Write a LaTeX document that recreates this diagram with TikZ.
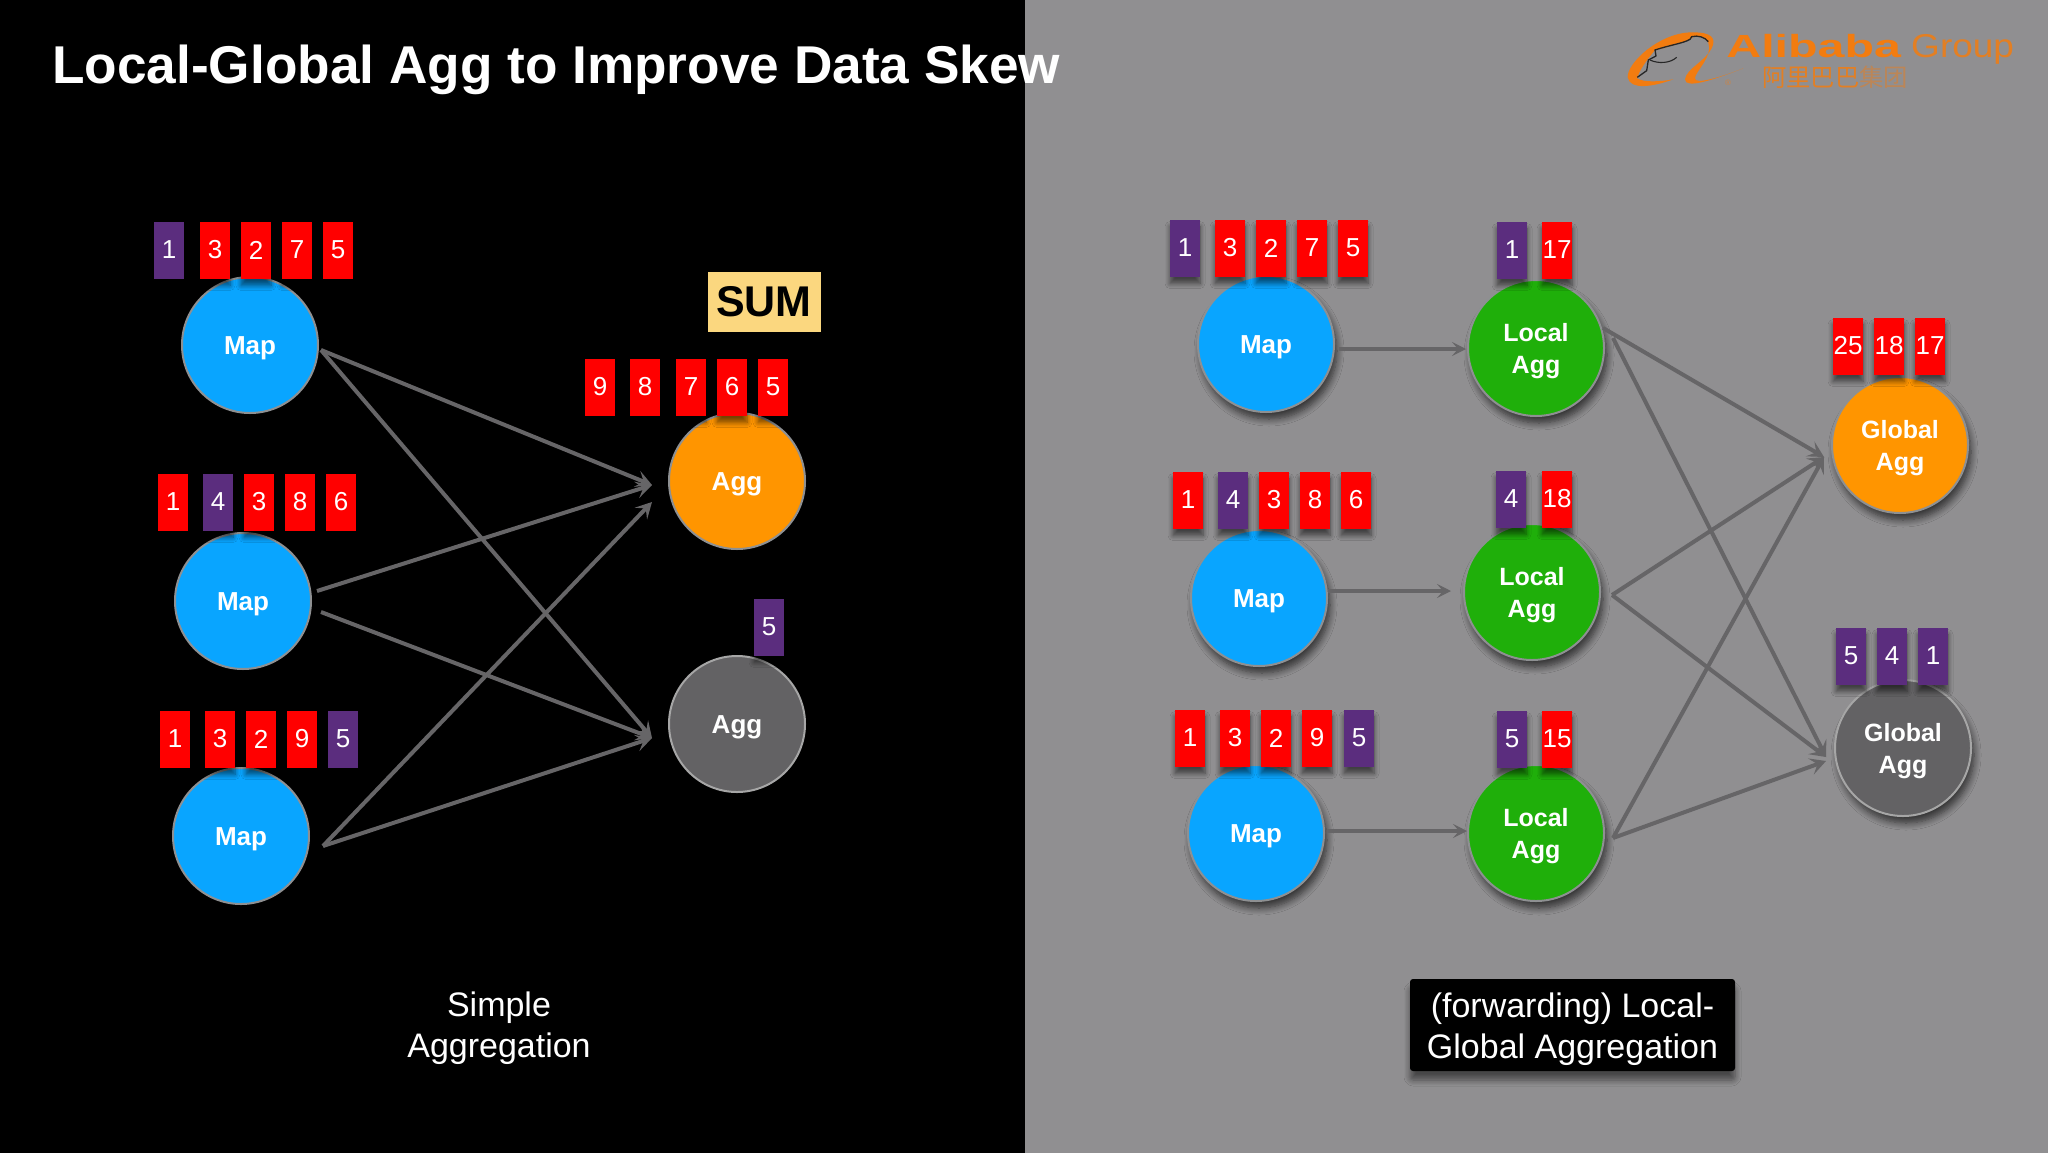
\documentclass[tikz,border=0pt]{standalone}
\usepackage{fontspec}
\setmainfont{Liberation Sans}
\newfontfamily\cjkfont{Noto Sans CJK SC}
\usetikzlibrary{arrows.meta,shadows.blur}
\definecolor{panelgray}{HTML}{908F91}
\definecolor{boxred}{HTML}{FF0000}
\definecolor{boxpurple}{HTML}{5B2D7E}
\definecolor{mapblue}{HTML}{09A5FF}
\definecolor{aggorange}{HTML}{FF9500}
\definecolor{agggray}{HTML}{636264}
\definecolor{localgreen}{HTML}{1FAF0A}
\definecolor{rimgray}{HTML}{8E9092}
\definecolor{wire}{HTML}{666567}
\definecolor{sumyellow}{HTML}{FBD77F}
\definecolor{logoorange}{HTML}{F27C10}
\newcommand\lowtext[2][3pt]{\raisebox{-#1}[\height][\depth]{#2}}
\tikzset{
  softbox/.style={blur shadow={shadow xshift=0pt,shadow yshift=-7pt,shadow blur steps=6,shadow blur radius=5pt,shadow opacity=55}},
  softdisc/.style={blur shadow={shadow xshift=3pt,shadow yshift=-7pt,shadow blur steps=8,shadow blur radius=7pt,shadow opacity=65}},
  val/.style={minimum width=30pt,minimum height=57pt,inner sep=0pt,text=white,font=\fontsize{26}{30}\selectfont,softbox},
  rb/.style={val,fill=boxred},
  pb/.style={val,fill=boxpurple},
  disc/.style={circle,minimum size=136pt,inner sep=0pt,draw=rimgray,line width=2pt,text=white,align=center,font=\fontsize{26}{32}\selectfont\bfseries},
  twoline/.style={font=\fontsize{25}{32}\selectfont\bfseries},
  mapdisc/.style={disc,fill=mapblue},
  orangedisc/.style={disc,fill=aggorange},
  graydisc/.style={disc,fill=agggray,draw=black!35},
  greendisc/.style={disc,fill=localgreen},
  conn/.style={draw=wire,line width=4pt,-{Stealth[length=16pt,width=17pt,inset=7pt]}},
  connb/.style={draw=wire,line width=3.4pt,-{Stealth[length=14pt,width=14pt,inset=6pt]}},
  caption/.style={text=white,align=center,inner sep=0pt,font=\fontsize{34}{41}\selectfont},
}
\begin{document}
\begin{tikzpicture}[x=1pt,y=-1pt]
\useasboundingbox (0,0) rectangle (2048,1152);
\fill[black] (-5,-5) rectangle (1025,1157);
\fill[panelgray] (1025,-5) rectangle (2053,1157);

% logo
\begin{scope}[shift={(1580,0)},x=0.3333pt,y=-0.3333pt]
\fill[logoorange] (280,238) .. controls (215,262) and (150,270) .. (143,232)
  .. controls (140,190) and (240,95) .. (340,97)
  .. controls (395,97) and (410,115) .. (395,145)
  .. controls (375,185) and (320,205) .. (315,238)
  .. controls (315,268) and (400,240) .. (490,205)
  .. controls (420,232) and (345,255) .. (345,235)
  .. controls (345,215) and (400,170) .. (385,128)
  .. controls (370,105) and (340,105) .. (330,118)
  .. controls (290,135) and (230,150) .. (225,150)
  .. controls (200,180) and (175,215) .. (172,235)
  .. controls (190,248) and (240,245) .. (280,238) -- cycle;
\draw[black!85,line width=1.3pt] (172,232) -- (200,212) -- (205,180) -- (228,168) -- (225,150) .. controls (270,135) and (310,130) .. (330,118) -- (335,110) .. controls (355,105) and (375,112) .. (385,125);
\draw[black!85,line width=1.1pt] (210,180) .. controls (235,192) and (270,190) .. (290,172);
\end{scope}
\node[anchor=base west,inner sep=0pt,xscale=1.51,text=logoorange,draw=logoorange,line width=0.5pt,draw opacity=0,font=\fontsize{32}{32}\selectfont\bfseries] (alibaba) at (1726,57) {Alibaba};
\node[anchor=base west,inner sep=0pt,xscale=1.12,text=logoorange!85!panelgray,font=\fontsize{33}{33}\selectfont] (group) at (1911,57) {Group};
\node[anchor=center,inner sep=0pt,text=logoorange!85!panelgray,font=\fontsize{24.3}{24.3}\cjkfont] (cjkname) at (1835,77) {阿里巴巴\textcolor{logoorange!45!panelgray}{集团}};
\node[inner sep=0pt,text=logoorange!60!panelgray,font=\fontsize{8}{8}\selectfont] (reg) at (1728,83) {®};

% title
\node[anchor=base west,inner sep=0pt,text=white,font=\fontsize{53.2}{58}\selectfont\bfseries] (title) at (52,83) {Local-Global Agg to Improve Data Skew};

% left discs
\node[mapdisc] (lm1) at (250,345) {\lowtext{Map}};
\node[mapdisc] (lm2) at (243,601) {\lowtext{Map}};
\node[mapdisc] (lm3) at (241,836) {\lowtext{Map}};
\node[orangedisc] (la1) at (737,481) {\lowtext{Agg}};
\node[graydisc] (la2) at (737,724) {\lowtext{Agg}};

% left value boxes
\foreach \n/\x/\t/\s in {a/169/1/pb,b/215/3/rb,c/256/2/rb,d/297/7/rb,e/338/5/rb}
  \node[\s] (lr1\n) at (\x,250) {\t};
\foreach \n/\x/\t/\s in {a/173/1/rb,b/218/4/pb,c/259/3/rb,d/300/8/rb,e/341/6/rb}
  \node[\s] (lr2\n) at (\x,502) {\t};
\foreach \n/\x/\t/\s in {a/175/1/rb,b/220/3/rb,c/261/2/rb,d/302/9/rb,e/343/5/pb}
  \node[\s] (lr3\n) at (\x,739) {\t};
\foreach \n/\x/\t/\s in {a/600/9/rb,b/645/8/rb,c/691/7/rb,d/732/6/rb,e/773/5/rb}
  \node[\s] (lo\n) at (\x,387) {\t};
\node[pb] (lg) at (769,627) {5};
\node[fill=sumyellow,text=black,minimum width=113pt,minimum height=60pt,inner sep=0pt,font=\fontsize{43}{46}\selectfont\bfseries] (sum) at (764,302) {SUM};

% left connectors
\coordinate (ltipa) at (652,485);
\coordinate (ltipb) at (652,502);
\coordinate (ltipc) at (652,738);
\coordinate (ls1) at ([shift={(71,5)}]lm1.center);
\coordinate (ls2a) at ([shift={(74,-10)}]lm2.center);
\coordinate (ls2b) at ([shift={(78,11)}]lm2.center);
\coordinate (ls3) at ([shift={(82,10)}]lm3.center);
\draw[conn] (ls1) -- (ltipa);
\draw[conn] (ls1) -- (ltipc);
\draw[conn] (ls2a) -- (ltipa);
\draw[conn] (ls2b) -- (ltipc);
\draw[conn] (ls3) -- (ltipb);
\draw[conn] (ls3) -- (ltipc);

\node[caption] (simple) at (499,1028) {Simple\\Aggregation};

% right discs
\node[mapdisc,softdisc] (rm1) at (1266,344) {\lowtext{Map}};
\node[mapdisc,softdisc] (rm2) at (1259,598) {\lowtext{Map}};
\node[mapdisc,softdisc] (rm3) at (1256,833) {\lowtext{Map}};
\node[greendisc,softdisc,twoline] (rl1) at (1536,348) {\lowtext{Local}\\\lowtext{Agg}};
\node[greendisc,softdisc,twoline] (rl2) at (1532,592) {\lowtext{Local}\\\lowtext{Agg}};
\node[greendisc,softdisc,twoline] (rl3) at (1536,833) {\lowtext{Local}\\\lowtext{Agg}};
\node[orangedisc,softdisc,twoline] (rg1) at (1900,445) {\lowtext{Global}\\\lowtext{Agg}};
\node[graydisc,softdisc,twoline] (rg2) at (1903,748) {\lowtext{Global}\\\lowtext{Agg}};

% right value boxes
\foreach \n/\x/\t/\s in {a/1185/1/pb,b/1230/3/rb,c/1271/2/rb,d/1312/7/rb,e/1353/5/rb}
  \node[\s] (rr1\n) at (\x,248) {\t};
\foreach \n/\x/\t/\s in {a/1188/1/rb,b/1233/4/pb,c/1274/3/rb,d/1315/8/rb,e/1356/6/rb}
  \node[\s] (rr2\n) at (\x,500) {\t};
\foreach \n/\x/\t/\s in {a/1190/1/rb,b/1235/3/rb,c/1276/2/rb,d/1317/9/rb,e/1359/5/pb}
  \node[\s] (rr3\n) at (\x,738) {\t};
\node[pb] (rl1a) at (1512,250) {1};
\node[rb] (rl1b) at (1557,250) {17};
\node[pb] (rl2a) at (1511,499) {4};
\node[rb] (rl2b) at (1557,499) {18};
\node[pb] (rl3a) at (1512,739) {5};
\node[rb] (rl3b) at (1557,739) {15};
\node[rb] (rg1a) at (1848,346) {25};
\node[rb] (rg1b) at (1889,346) {18};
\node[rb] (rg1c) at (1930,346) {17};
\node[pb] (rg2a) at (1851,656) {5};
\node[pb] (rg2b) at (1892,656) {4};
\node[pb] (rg2c) at (1933,656) {1};

% right connectors
\coordinate (rtip1) at (1466,349);
\coordinate (rtip2) at (1451,591);
\coordinate (rtip3) at (1467,831);
\coordinate (rtipa) at (1824,457);
\coordinate (rtipb) at (1826,757);
\coordinate (rtipc) at (1826,761);
\coordinate (rs1) at ([shift={(73,5)}]rm1.center);
\coordinate (rs2) at ([shift={(69,-7)}]rm2.center);
\coordinate (rs3) at ([shift={(71,-2)}]rm3.center);
\coordinate (rl1s) at ([shift={(67,-20)}]rl1.center);
\coordinate (rl1t) at ([shift={(77,-10)}]rl1.center);
\coordinate (rl2s) at ([shift={(80,3)}]rl2.center);
\coordinate (rl3s) at ([shift={(77,5)}]rl3.center);
\draw[connb] (rs1) -- (rtip1);
\draw[connb] (rs2) -- (rtip2);
\draw[connb] (rs3) -- (rtip3);
\draw[conn] (rl1s) -- (rtipa);
\draw[conn] (rl1t) -- (rtipb);
\draw[conn] (rl2s) -- (rtipa);
\draw[conn] (rl2s) -- (rtipb);
\draw[conn] (rl3s) -- (rtipa);
\draw[conn] (rl3s) -- (rtipc);

\node[fill=black,rounded corners=3pt,minimum width=325pt,minimum height=92pt,inner sep=0pt,text=white,align=center,font=\fontsize{34}{41.5}\selectfont,blur shadow={shadow xshift=0pt,shadow yshift=-9pt,shadow blur steps=6,shadow blur radius=6pt,shadow opacity=50}] (fwd) at (1572.5,1025) {\lowtext[4pt]{(forwarding) Local-}\\\lowtext[4pt]{Global Aggregation}};
\end{tikzpicture}
\end{document}
